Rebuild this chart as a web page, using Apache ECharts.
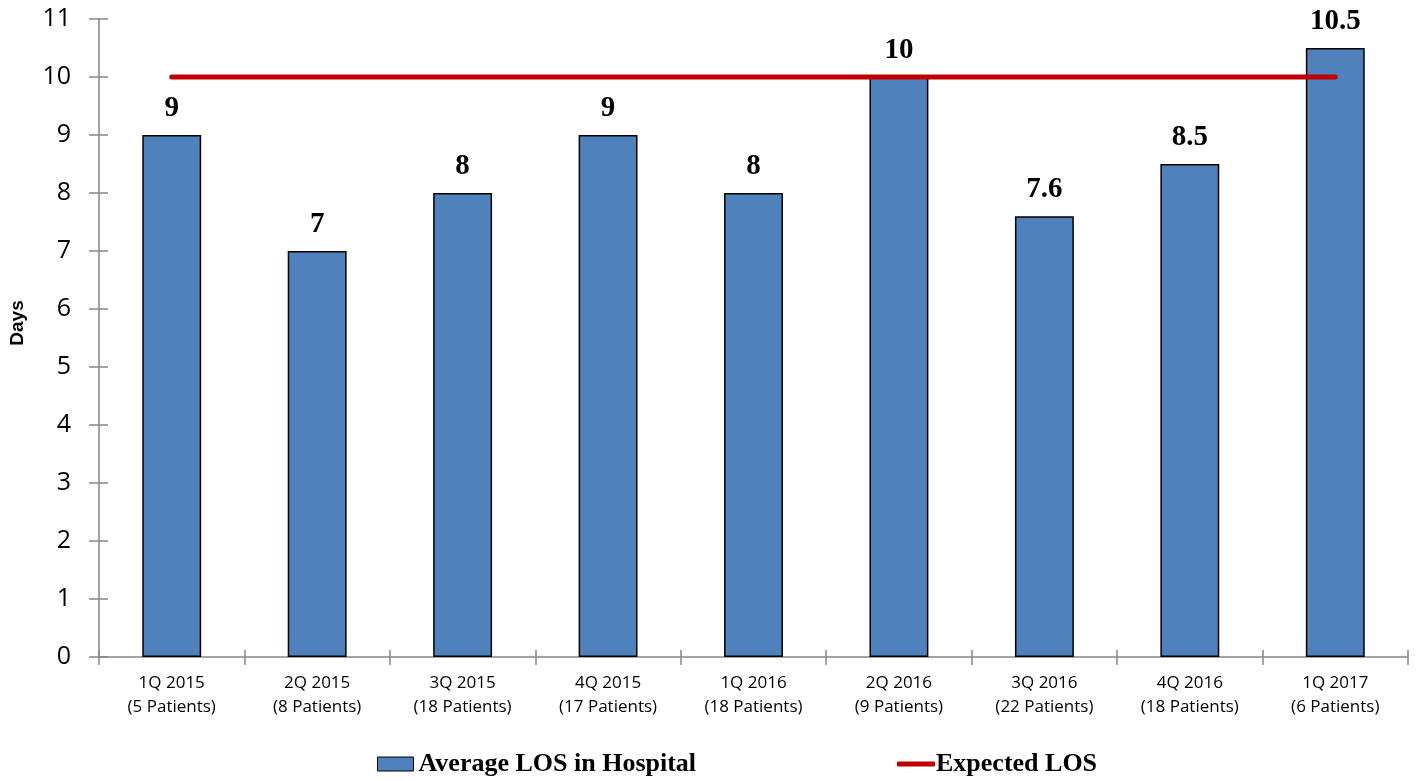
<!DOCTYPE html>
<html>
<head>
<meta charset="utf-8">
<script src="https://cdn.jsdelivr.net/npm/echarts@6/dist/echarts.min.js"></script>
<style>
  html, body { margin: 0; padding: 0; background: #fff; }
  #chart { width: 1422px; height: 781px; }
</style>
</head>
<body>
<div id="chart"></div>
<script>
// Quarterly average length of stay vs. expected LOS
const quarters = ['1Q 2015', '2Q 2015', '3Q 2015', '4Q 2015', '1Q 2016', '2Q 2016', '3Q 2016', '4Q 2016', '1Q 2017'];
const patients = [5, 8, 18, 17, 18, 9, 22, 18, 6];
const averageLOS = [9, 7, 8, 9, 8, 10, 7.6, 8.5, 10.5];
const expectedLOS = [10, 10, 10, 10, 10, 10, 10, 10, 10];
const yTicks = { min: 0, max: 11, interval: 1 };

const categories = quarters.map((q, i) => q + '\n(' + patients[i] + ' Patients)');

const chart = echarts.init(document.getElementById('chart'), null, { renderer: 'canvas' });

const axisGrey = '#868686';
const legendText = { fontFamily: 'Liberation Serif', fontWeight: 'bold', fontSize: 26, color: '#000' };

chart.setOption({
  animation: false,
  backgroundColor: '#ffffff',
  grid: { left: 99, right: 14, top: 19, bottom: 124, containLabel: false },
  legend: [
    {
      top: 746,
      left: 372,
      itemWidth: 36,
      itemHeight: 14,
      textStyle: legendText,
      data: [{ name: 'Average LOS in Hospital', icon: 'rect', itemStyle: { borderColor: '#000', borderWidth: 1 } }]
    },
    {
      top: 746,
      left: 892,
      itemWidth: 38,
      itemHeight: 5,
      textStyle: Object.assign({ padding: [0, 0, 0, -4] }, legendText),
      data: [{ name: 'Expected LOS', icon: 'roundRect', itemStyle: { color: '#C00000' } }]
    }
  ],
  graphic: [
    {
      type: 'text',
      x: 18,
      y: 323,
      rotation: Math.PI / 2,
      style: {
        text: 'Days',
        fontFamily: 'Liberation Sans',
        fontWeight: 'bold',
        fontSize: 19,
        fill: '#000',
        align: 'center',
        verticalAlign: 'middle'
      }
    }
  ],
  xAxis: [
    {
      type: 'category',
      data: categories,
      boundaryGap: true,
      axisLine: { lineStyle: { color: axisGrey, width: 1.5 } },
      axisTick: { show: true, inside: false, length: 8, alignWithLabel: false, lineStyle: { color: axisGrey, width: 1.5 } },
      axisLabel: {
        fontFamily: 'Open Sans', fontSize: 17, color: '#000', lineHeight: 24, margin: 14, interval: 0
      },
      splitLine: { show: false }
    },
    {
      type: 'category',
      data: categories,
      position: 'bottom',
      boundaryGap: true,
      axisLine: { show: false },
      axisTick: { show: true, inside: true, length: 7, lineStyle: { color: axisGrey, width: 1.5 } },
      axisLabel: { show: false }
    }
  ],
  yAxis: [
    {
      type: 'value',
      min: yTicks.min, max: yTicks.max, interval: yTicks.interval,
      axisLine: { show: true, lineStyle: { color: axisGrey, width: 1.5 } },
      axisTick: { show: true, inside: false, length: 10, lineStyle: { color: axisGrey, width: 1.5 } },
      axisLabel: { fontFamily: 'Open Sans', fontSize: 25, color: '#000', margin: 28 },
      splitLine: { show: false }
    },
    {
      type: 'value',
      min: yTicks.min, max: yTicks.max, interval: yTicks.interval,
      position: 'left',
      axisLine: { show: false },
      axisTick: { show: true, inside: true, length: 9, lineStyle: { color: axisGrey, width: 1.5 } },
      axisLabel: { show: false },
      splitLine: { show: false }
    }
  ],
  series: [
    {
      name: 'Average LOS in Hospital',
      type: 'bar',
      data: averageLOS,
      barWidth: '40.5%',
      itemStyle: { color: '#4F81BD', borderColor: '#000', borderWidth: 1.5 },
      label: {
        show: true,
        position: 'top',
        distance: 12,
        fontFamily: 'Liberation Serif',
        fontWeight: 'bold',
        fontSize: 29,
        color: '#000'
      },
      z: 2
    },
    {
      name: 'Expected LOS',
      type: 'line',
      data: expectedLOS,
      symbol: 'none',
      lineStyle: { color: '#C00000', width: 5, cap: 'round' },
      itemStyle: { color: '#C00000' },
      z: 3
    }
  ]
});
</script>
</body>
</html>
